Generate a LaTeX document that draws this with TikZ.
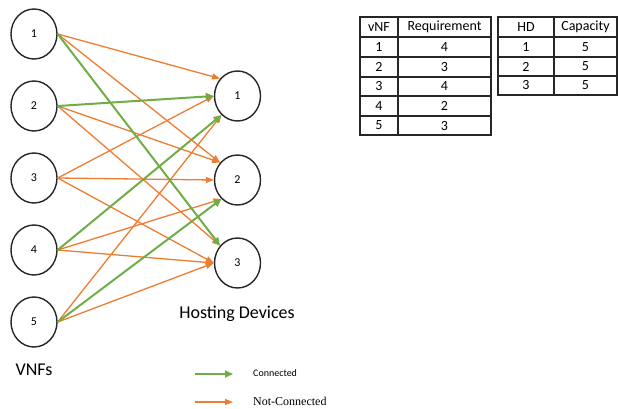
\documentclass[tikz,border=0pt]{standalone}
\usepackage{fontspec}
\setmainfont{Carlito}
\newfontfamily\serifface{Liberation Serif}
\usetikzlibrary{arrows.meta,shapes.geometric}
\definecolor{linkorange}{HTML}{ED7D31}
\definecolor{linkgreen}{HTML}{70AD47}

\begin{document}
\begin{tikzpicture}[x=1pt,y=-1pt,
  vnode/.style={ellipse,draw=black!85,line width=1.4pt,minimum width=46pt,minimum height=50pt,
    inner sep=0pt,font=\fontsize{12}{12}\selectfont},
  nolink/.style={draw=linkorange,line width=1.3pt,-{Triangle[length=8pt,width=6pt]}},
  link/.style={draw=linkgreen,line width=2pt,-{Triangle[length=8pt,width=7pt]}},
  cell/.style={font=\fontsize{14}{14}\selectfont,inner sep=0pt},
  grid/.style={line width=1.1pt,draw=black!85},
  biglabel/.style={font=\fontsize{18}{18}\selectfont,inner sep=0pt}]
\useasboundingbox (0,0) rectangle (619,408);

% VNF nodes
\node[vnode] (v1) at (34,34) {1};
\node[vnode] (v2) at (34,106) {2};
\node[vnode] (v3) at (34,178) {3};
\node[vnode] (v4) at (34,250) {4};
\node[vnode] (v5) at (34,322) {5};

% hosting devices
\node[vnode] (h1) at (237.5,96) {1};
\node[vnode] (h2) at (237.5,180) {2};
\node[vnode] (h3) at (237.5,263) {3};

% candidate links
\draw[nolink] (v1.east) -- (h1.135);
\draw[nolink] (v1.east) -- (h2.135);
\draw[nolink] (v2.east) -- (h2.135);
\draw[nolink] (v2.east) -- (h3.135);
\draw[nolink] (v3.east) -- (h1.west);
\draw[nolink] (v3.east) -- (h2.west);
\draw[nolink] (v3.east) -- (h3.west);
\draw[nolink] (v4.east) -- (h2.230);
\draw[nolink] (v4.east) -- (h3.west);
\draw[nolink] (v5.east) -- (h1.230);
\draw[nolink] (v5.east) -- (h3.west);
% chosen placement
\draw[link] (v1.east) -- (h3.135);
\draw[link] (v2.east) -- (h1.west);
\draw[link] (v4.east) -- (h1.230);
\draw[link] (v5.east) -- (h2.230);

% captions
\node[biglabel] (hdcap) at (237,314) {Hosting Devices};
\node[biglabel] (vnfcap) at (34,370) {VNFs};

% legend
\coordinate (lga) at (195,374);
\coordinate (lgb) at (233,374);
\coordinate (lna) at (195,402);
\coordinate (lnb) at (233,402);
\draw[link,line width=1.8pt] (lga) -- (lgb);
\draw[nolink] (lna) -- (lnb);
\node[anchor=west,inner sep=0pt,font=\fontsize{10}{10}\selectfont] (lgt) at (253,373) {Connected};
\node[anchor=west,inner sep=0pt,font=\serifface\fontsize{12}{12}\selectfont] (lnt) at (253,401) {Not-Connected};

% requirement table
\draw[grid] (360,17) rectangle (491,135);
\draw[grid] (398,17) -- (398,135);
\foreach \y in {37,57,77,96,116} \draw[grid] (360,\y) -- (491,\y);
\node[cell] (ta) at (379,27) {vNF};
\node[cell] (tb) at (444.5,27) {Requirement};
\foreach \n/\r/\y in {1/4/47,2/3/67,3/4/86.5,4/2/106,5/3/125.5} {
  \node[cell] (tv\n) at (379,\y) {\n};
  \node[cell] (tr\n) at (444.5,\y) {\r};
}

% capacity table
\draw[grid] (498,17) rectangle (617,95);
\draw[grid] (554,17) -- (554,95);
\foreach \y in {37,57,76} \draw[grid] (498,\y) -- (617,\y);
\node[cell] (ca) at (526,27) {HD};
\node[cell] (cb) at (585.5,27) {Capacity};
\foreach \n/\y in {1/47,2/66.5,3/85.5} {
  \node[cell] (ch\n) at (526,\y) {\n};
  \node[cell] (cc\n) at (585.5,\y) {5};
}
\end{tikzpicture}
\end{document}
